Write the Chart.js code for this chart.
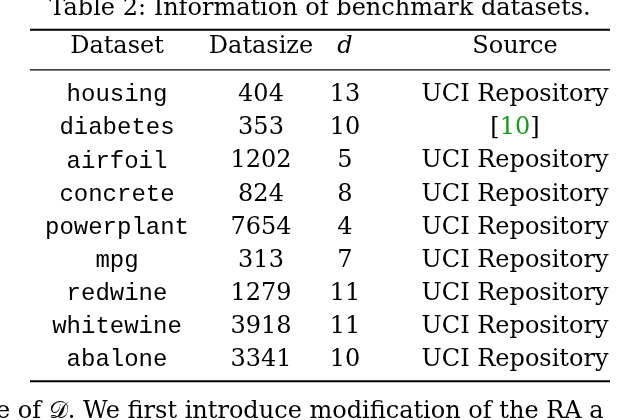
<!DOCTYPE html>
<html><head><meta charset="utf-8">
<script src="https://cdn.jsdelivr.net/npm/chart.js@4"></script>
<style>body{margin:0;background:#fff}</style>
</head><body>
<canvas id="c" width="638" height="420"></canvas>
<script>
// table contents
const headers = ['Dataset', 'Datasize', 'd', 'Source'];
const datasets = ['housing', 'diabetes', 'airfoil', 'concrete', 'powerplant', 'mpg', 'redwine', 'whitewine', 'abalone'];
const datasizes = [404, 353, 1202, 824, 7654, 313, 1279, 3918, 3341];
const dims = [13, 10, 5, 8, 4, 7, 11, 11, 10];
const sources = ['UCI Repository', '[10]', 'UCI Repository', 'UCI Repository', 'UCI Repository',
  'UCI Repository', 'UCI Repository', 'UCI Repository', 'UCI Repository'];

const colX = [117, 261, 345, 515];
const serif = '"DejaVu Serif", "Liberation Serif", serif';
const mono = '"Liberation Mono", "DejaVu Sans Mono", monospace';

const tablePlugin = {
  id: 'table',
  afterDraw(chart) {
    const ctx = chart.ctx, xs = chart.scales.x, ys = chart.scales.y;
    ctx.save();
    ctx.fillStyle = '#000';
    ctx.textAlign = 'center';
    ctx.textBaseline = 'middle';
    ctx.font = '24px ' + serif;
    ctx.fillText('Table 2: Information of benchmark datasets.', 320, 9);
    // rules
    ctx.strokeStyle = '#000';
    [[-1.97, 2], [-0.76, 1.2], [8.65, 2]].forEach(([r, w]) => {
      ctx.lineWidth = w;
      ctx.beginPath();
      ctx.moveTo(xs.getPixelForValue(30), ys.getPixelForValue(r));
      ctx.lineTo(xs.getPixelForValue(610), ys.getPixelForValue(r));
      ctx.stroke();
    });
    // header
    const hy = ys.getPixelForValue(-1.45);
    headers.forEach((h, j) => {
      ctx.font = (j === 2 ? 'italic ' : '') + '24px ' + serif;
      ctx.fillText(h, xs.getPixelForValue(colX[j]), hy);
    });
    // rows
    datasets.forEach((name, i) => {
      const y = ys.getPixelForValue(i);
      ctx.font = '24px ' + mono;
      ctx.fillText(name, xs.getPixelForValue(colX[0]), y);
      ctx.font = '24px ' + serif;
      ctx.fillText(String(datasizes[i]), xs.getPixelForValue(colX[1]), y);
      ctx.fillText(String(dims[i]), xs.getPixelForValue(colX[2]), y);
      const sx = xs.getPixelForValue(colX[3]);
      if (sources[i] === '[10]') {
        const w1 = ctx.measureText('[').width, w2 = ctx.measureText('10').width;
        const x0 = sx - (2 * w1 + w2) / 2;
        ctx.textAlign = 'left';
        ctx.fillText('[', x0, y);
        ctx.fillStyle = '#1a9a1a';
        ctx.fillText('10', x0 + w1, y);
        ctx.fillStyle = '#000';
        ctx.fillText(']', x0 + w1 + w2, y);
        ctx.textAlign = 'center';
      } else {
        ctx.fillText(sources[i], sx, y);
      }
    });
    ctx.textAlign = 'left';
    ctx.font = '24px ' + serif;
    ctx.fillText('e of 𝒟. We first introduce modification of the RA a', -4, 412);
    ctx.restore();
  }
};

new Chart(document.getElementById('c'), {
  type: 'scatter',
  data: { datasets: [{ data: datasizes.map((v, i) => ({ x: colX[1], y: i })), pointRadius: 0 }] },
  options: {
    responsive: false,
    animation: false,
    layout: { padding: 0 },
    plugins: { legend: { display: false }, tooltip: { enabled: false } },
    scales: {
      x: { type: 'linear', min: 0, max: 638, display: false },
      y: { type: 'linear', min: -2.87, max: 9.82, reverse: true, display: false }
    }
  },
  plugins: [tablePlugin]
});
</script>
</body></html>
